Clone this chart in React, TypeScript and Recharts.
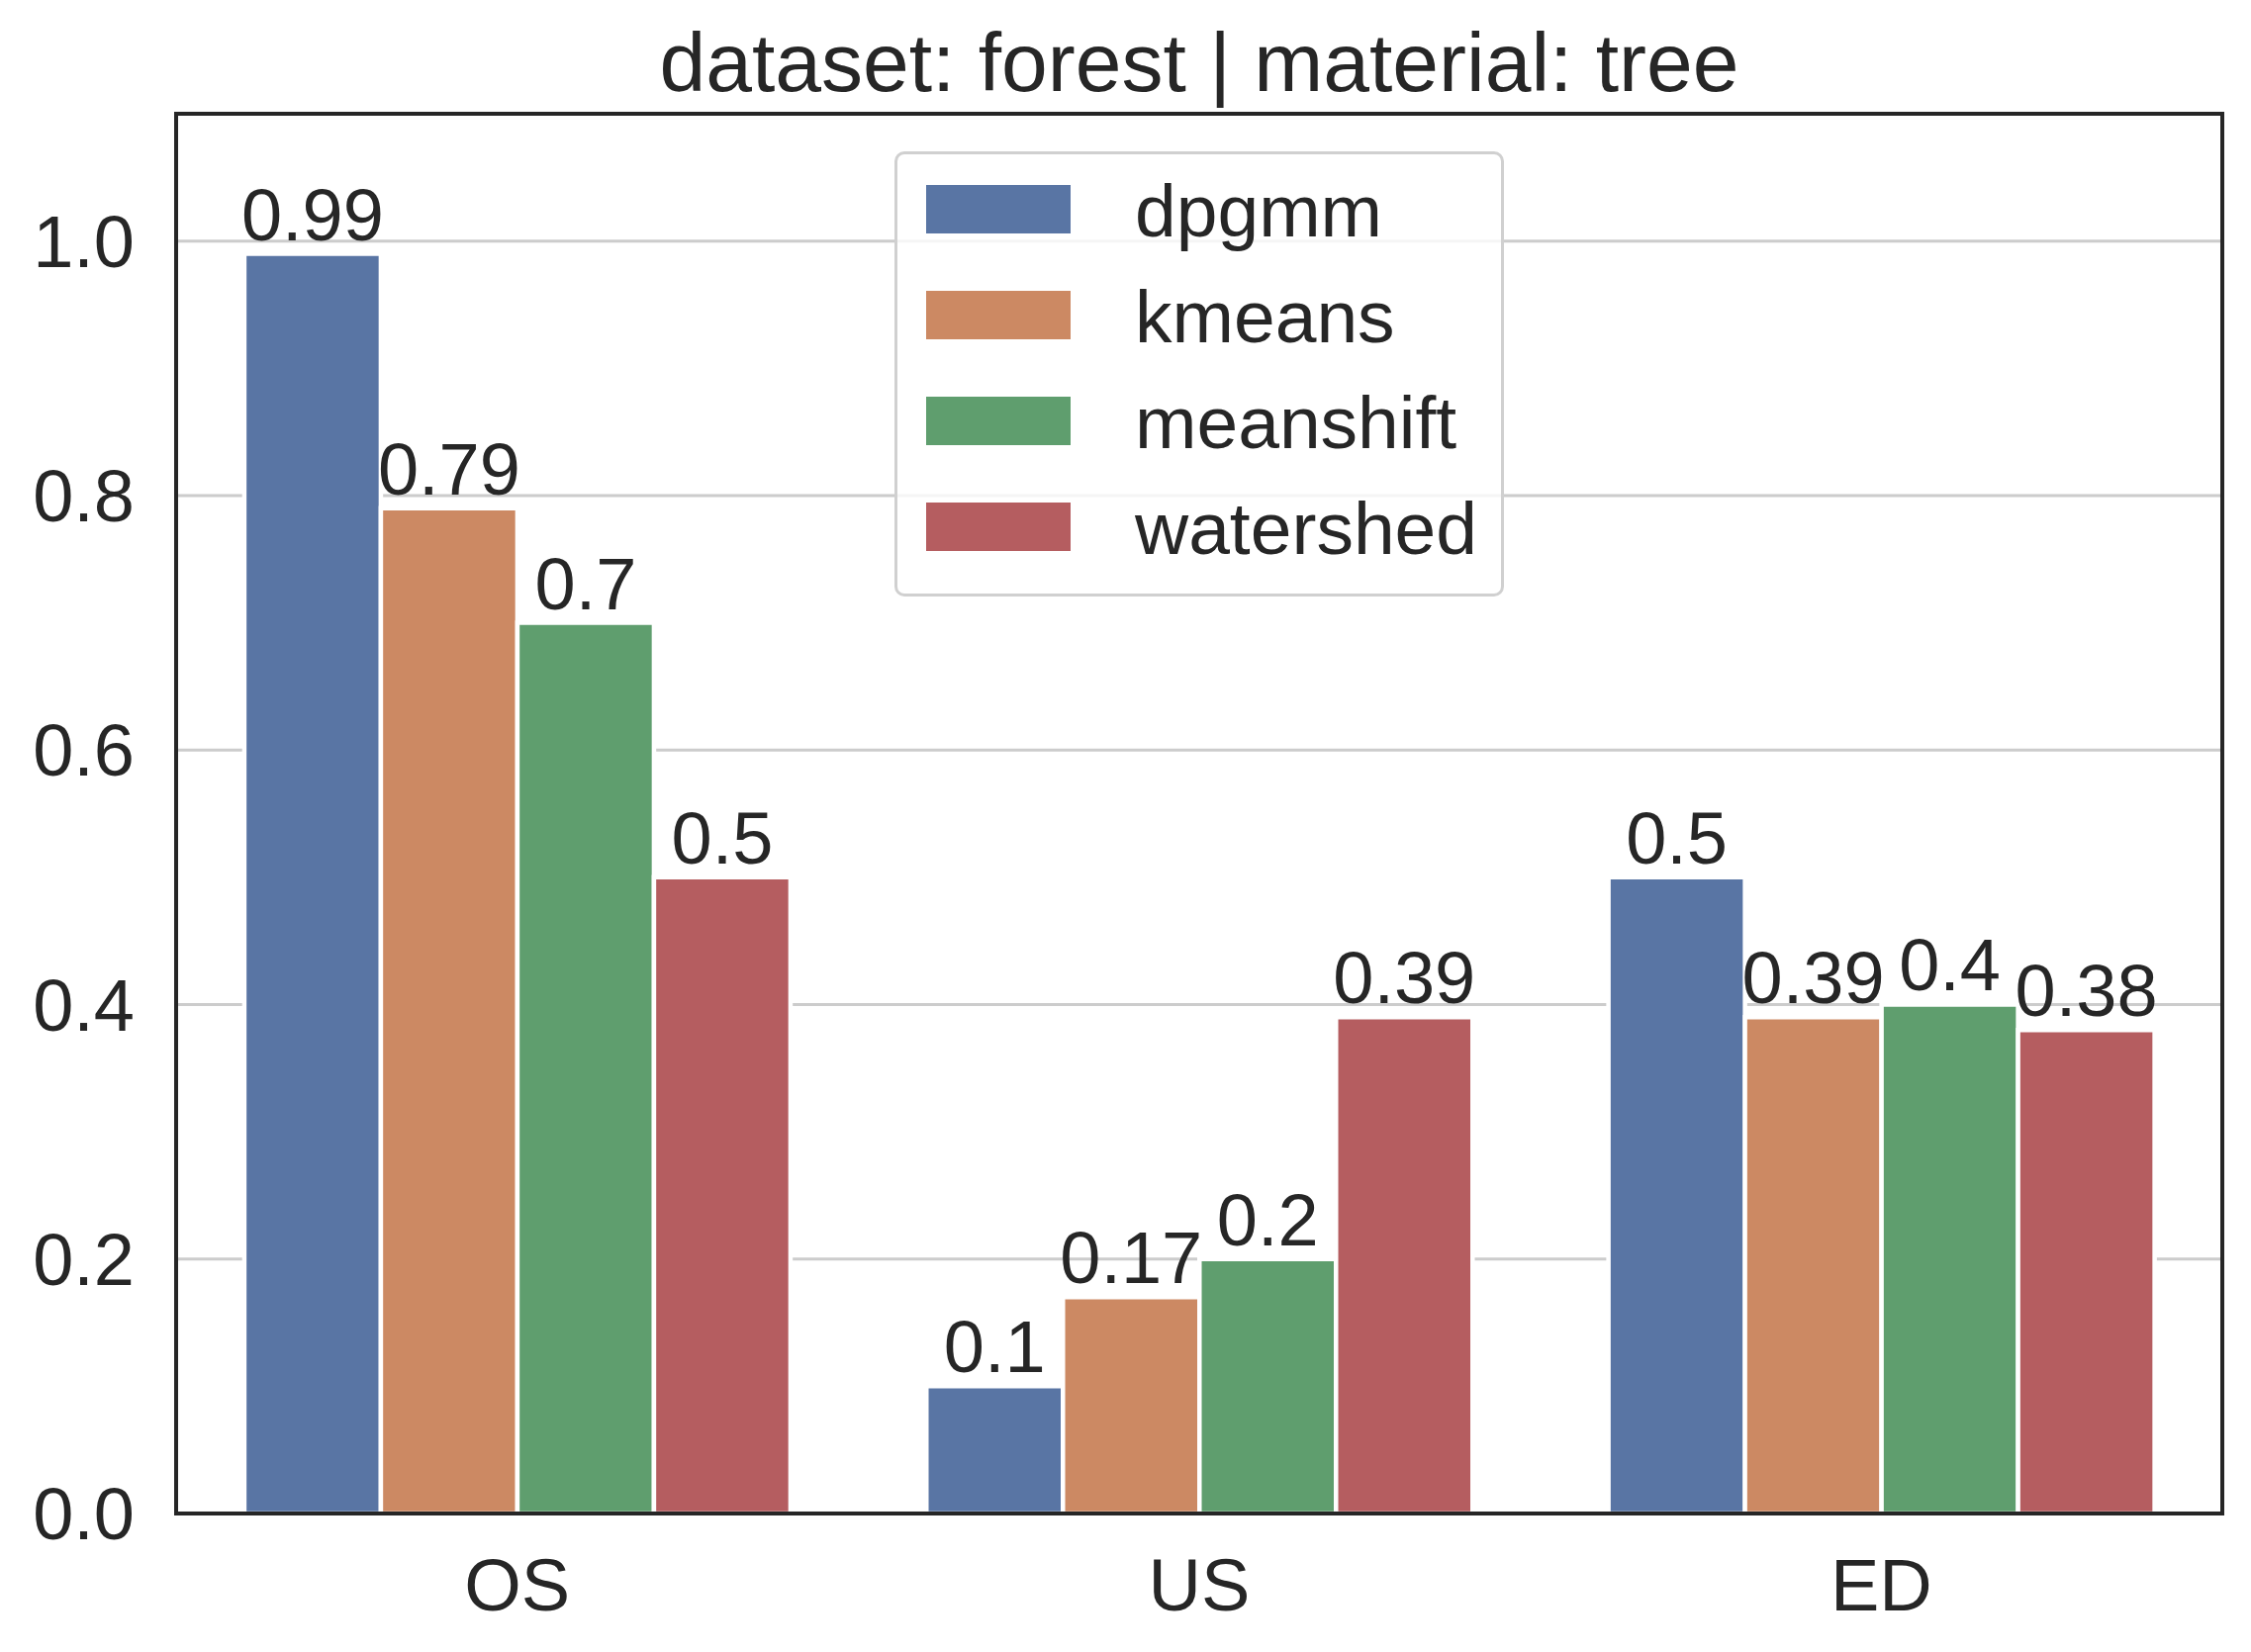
import React from "react";
import {
  BarChart,
  Bar,
  XAxis,
  YAxis,
  CartesianGrid,
  LabelList,
} from "recharts";

const CATEGORIES = ["OS", "US", "ED"];
const SERIES = ["dpgmm", "kmeans", "meanshift", "watershed"];
const DPGMM = [0.99, 0.1, 0.5];
const KMEANS = [0.79, 0.17, 0.39];
const MEANSHIFT = [0.7, 0.2, 0.4];
const WATERSHED = [0.5, 0.39, 0.38];
const Y_TICKS = [0, 0.2, 0.4, 0.6, 0.8, 1.0];

const COLORS = ["#5975a4", "#cc8963", "#5f9e6e", "#b55d60"];
const FONT = '"Liberation Sans", Arial, sans-serif';
const INK = "#262626";

const W = 2275;
const H = 1670;
// plot area
const PL = 178;
const PT = 115;
const PR = 29;
const PB = 140;
const SPINE = 4.5;

const chartData = CATEGORIES.map((cat, i) => ({
  cat,
  dpgmm: DPGMM[i],
  kmeans: KMEANS[i],
  meanshift: MEANSHIFT[i],
  watershed: WATERSHED[i],
}));

const tickStyle = { fill: INK, fontSize: 74, fontFamily: FONT };

export default function App() {
  return (
    <div
      style={{
        position: "absolute",
        left: 0,
        top: 0,
        width: W,
        height: H,
        background: "#fff",
        fontFamily: FONT,
      }}
    >
      <BarChart
        width={W}
        height={H}
        data={chartData}
        margin={{ top: PT, right: PR, bottom: 0, left: 0 }}
        barCategoryGap="10%"
        barGap={0}
      >
        <CartesianGrid
          horizontal
          vertical={false}
          stroke="#cccccc"
          strokeWidth={3}
        />
        {SERIES.map((s, i) => (
          <Bar
            key={s}
            dataKey={s}
            fill={COLORS[i]}
            stroke="#ffffff"
            strokeWidth={4.5}
            isAnimationActive={false}
          >
            <LabelList
              dataKey={s}
              position="top"
              offset={14}
              style={{ fill: INK, fontSize: 74, fontFamily: FONT }}
            />
          </Bar>
        ))}
        <XAxis
          dataKey="cat"
          height={PB}
          tickLine={false}
          tickSize={0}
          tickMargin={45}
          axisLine={false}
          tick={tickStyle}
        />
        <YAxis
          domain={[0, 1.1]}
          ticks={Y_TICKS}
          width={PL}
          tickLine={false}
          tickSize={0}
          tickMargin={42}
          tickFormatter={(v: number) => v.toFixed(1)}
          axisLine={false}
          tick={tickStyle}
        />
      </BarChart>

      {/* frame (all four spines) */}
      <div
        style={{
          position: "absolute",
          left: PL - SPINE / 2,
          top: PT - SPINE / 2,
          width: W - PL - PR + SPINE,
          height: H - PT - PB + SPINE,
          boxSizing: "border-box",
          border: `${SPINE}px solid ${INK}`,
          pointerEvents: "none",
        }}
      />

      {/* title */}
      <div
        style={{
          position: "absolute",
          left: PL,
          width: W - PL - PR,
          top: 21,
          textAlign: "center",
          fontSize: 84,
          lineHeight: 1,
          color: INK,
          whiteSpace: "nowrap",
        }}
      >
        dataset: forest | material: tree
      </div>

      {/* legend */}
      <div
        style={{
          position: "absolute",
          left: 904,
          top: 153,
          width: 616,
          height: 450,
          boxSizing: "border-box",
          border: "3px solid #d0d0d0",
          borderRadius: 10,
          background: "rgba(255,255,255,0.8)",
        }}
      >
        {SERIES.map((s, i) => (
          <React.Fragment key={s}>
            <div
              style={{
                position: "absolute",
                left: 29,
                top: 31 + i * 107,
                width: 146,
                height: 49,
                background: COLORS[i],
              }}
            />
            <div
              style={{
                position: "absolute",
                left: 240,
                top: 20 + i * 107,
                fontSize: 75,
                lineHeight: 1,
                color: INK,
                whiteSpace: "nowrap",
              }}
            >
              {s}
            </div>
          </React.Fragment>
        ))}
      </div>
    </div>
  );
}
